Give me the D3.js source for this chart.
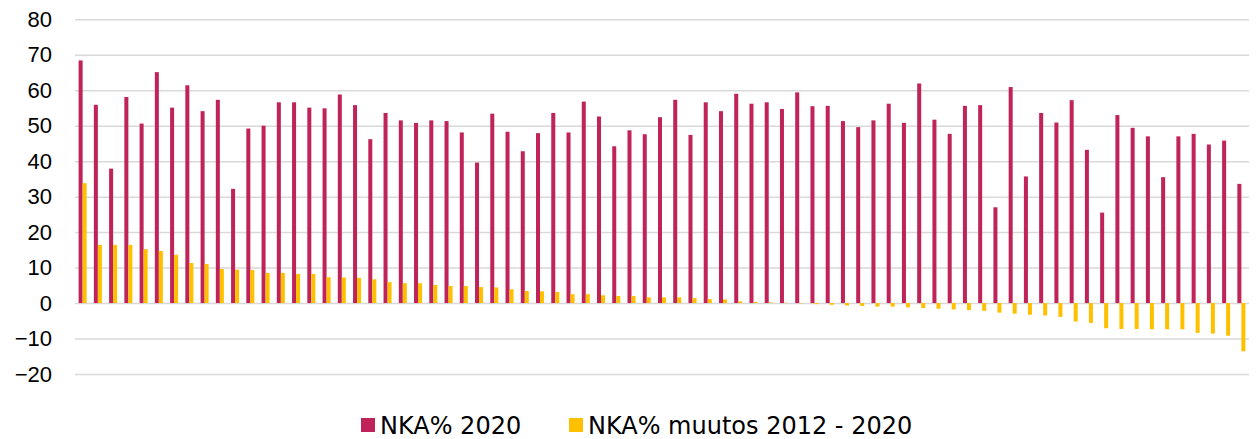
<!DOCTYPE html>
<html>
<head>
<meta charset="utf-8">
<script src="https://cdn.jsdelivr.net/npm/d3@7"></script>
<style>
  html, body { margin: 0; padding: 0; background: #fff; }
  svg { display: block; font-family: "DejaVu Sans", Verdana, sans-serif; }
</style>
</head>
<body>
<div id="chart"></div>
<script>
const width = 1256;
const height = 439;

// arvot luettu kuvasta
const nka2020 = [
  68.4, 55.9, 37.9, 58.1, 50.6, 65.1, 55.1, 61.4, 54.1, 57.3,
  32.2, 49.2, 50.0, 56.6, 56.6, 55.1, 54.9, 58.8, 55.8, 46.2,
  53.6, 51.5, 50.8, 51.5, 51.3, 48.1, 39.6, 53.4, 48.3, 42.8,
  47.9, 53.6, 48.1, 56.8, 52.6, 44.2, 48.7, 47.6, 52.4, 57.3,
  47.4, 56.6, 54.1, 59.0, 56.2, 56.6, 54.7, 59.4, 55.5, 55.6,
  51.3, 49.6, 51.5, 56.2, 50.8, 61.9, 51.7, 47.7, 55.6, 55.8,
  27.0, 60.9, 35.7, 53.6, 50.9, 57.2, 43.2, 25.5, 53.0, 49.4,
  47.0, 35.5, 47.0, 47.7, 44.7, 45.8, 33.6
];
const muutos = [
  33.8, 16.4, 16.4, 16.4, 15.2, 14.7, 13.6, 11.3, 11.0, 9.6,
  9.4, 9.3, 8.5, 8.5, 8.2, 8.2, 7.3, 7.2, 7.1, 6.7,
  5.9, 5.6, 5.6, 5.1, 4.8, 4.8, 4.5, 4.4, 3.9, 3.4,
  3.3, 3.1, 2.5, 2.5, 2.2, 2.0, 2.0, 1.6, 1.6, 1.6,
  1.4, 1.1, 1.0, 0.5, 0.3, 0.2, 0.1, -0.1, -0.3, -0.5,
  -0.7, -0.8, -1.0, -1.0, -1.2, -1.4, -1.6, -1.8, -2.0, -2.2,
  -2.7, -3.0, -3.3, -3.5, -3.9, -5.2, -5.6, -7.1, -7.3, -7.3,
  -7.4, -7.4, -7.4, -8.4, -8.6, -9.2, -13.6
];
const categories = nka2020.map((d, i) => i);
const seriesNames = ["NKA% 2020", "NKA% muutos 2012 - 2020"];
const seriesValues = [nka2020, muutos];
const colors = ["#C0235A", "#FFC000"];
const yTicks = [-20, -10, 0, 10, 20, 30, 40, 50, 60, 70, 80];

const plot = { left: 75, right: 1249, top: 19.3, bottom: 374 };

const svg = d3.select("#chart")
  .append("svg")
  .attr("width", width)
  .attr("height", height);

// asteikot
const y = d3.scaleLinear()
  .domain([-20, 80])
  .range([plot.bottom, plot.top]);

const x0 = d3.scaleBand()
  .domain(categories)
  .range([plot.left, plot.right])
  .padding(0);

const x1 = d3.scaleBand()
  .domain(d3.range(seriesNames.length))
  .range([0, x0.bandwidth()])
  .paddingInner(0)
  .paddingOuter(0.9);

// ruudukko
const yAxis = svg.append("g")
  .attr("transform", `translate(${plot.left}, 0)`)
  .call(d3.axisLeft(y)
    .tickValues(yTicks)
    .tickSize(-(plot.right - plot.left))
    .tickPadding(23)
    .tickFormat(d3.format("d")));

yAxis.select(".domain").remove();
yAxis.selectAll(".tick line")
  .attr("stroke", "#d9d9d9")
  .attr("stroke-width", 1.5);
yAxis.selectAll(".tick text")
  .attr("fill", "#000")
  .style("font-size", "22px");

// pylväät
const rows = categories.map((c, i) => seriesValues.map((vals, s) => ({ c, s, v: vals[i] })));

svg.append("g")
  .selectAll("g")
  .data(rows)
  .join("g")
  .attr("transform", (d, i) => `translate(${x0(categories[i])}, 0)`)
  .selectAll("rect")
  .data((d) => d)
  .join("rect")
  .attr("x", (d) => x1(d.s))
  .attr("width", x1.bandwidth())
  .attr("y", (d) => y(Math.max(0, d.v)))
  .attr("height", (d) => Math.abs(y(d.v) - y(0)))
  .attr("fill", (d) => colors[d.s]);

// selite
const legendItems = [
  { x: 361, name: seriesNames[0], color: colors[0] },
  { x: 569, name: seriesNames[1], color: colors[1] }
];

const legend = svg.append("g")
  .selectAll("g")
  .data(legendItems)
  .join("g")
  .attr("transform", (d) => `translate(${d.x}, 418)`);

legend.append("rect")
  .attr("width", 14)
  .attr("height", 14)
  .attr("fill", (d) => d.color);

legend.append("text")
  .attr("x", 19)
  .attr("y", 7)
  .attr("dy", "0.36em")
  .style("font-size", "24px")
  .attr("fill", "#000")
  .text((d) => d.name);
</script>
</body>
</html>
